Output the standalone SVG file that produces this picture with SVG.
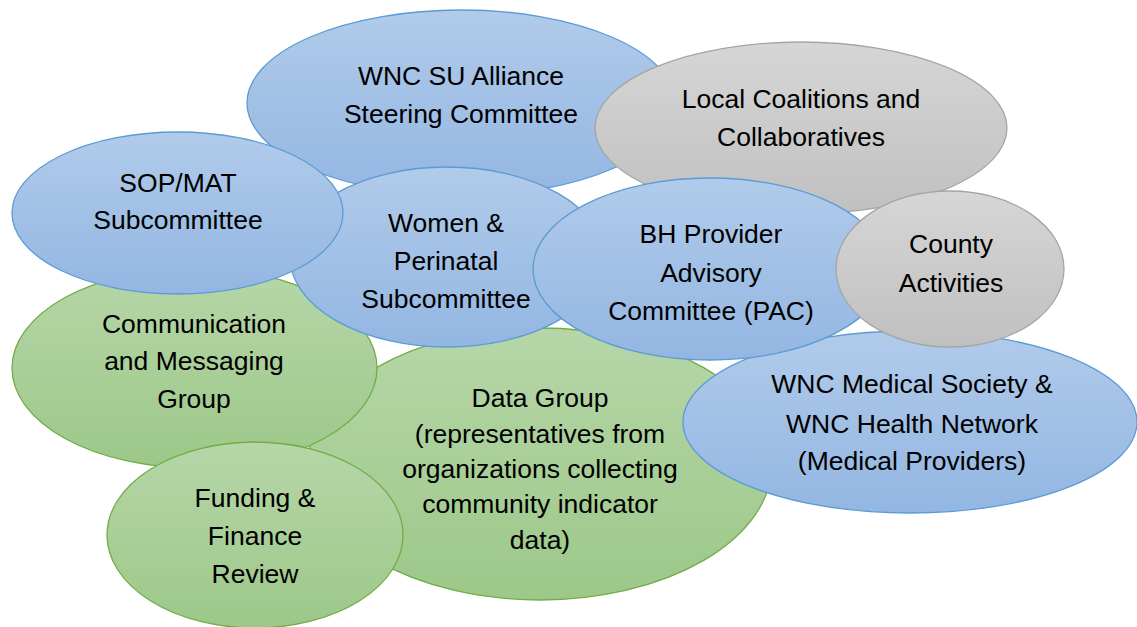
<svg xmlns="http://www.w3.org/2000/svg" width="1137" height="627" viewBox="0 0 1137 627">
<defs>
<linearGradient id="gBlue" x1="0" y1="0" x2="0" y2="1"><stop offset="0" stop-color="#b1cbea"/><stop offset="1" stop-color="#93b6e2"/></linearGradient>
<linearGradient id="gGreen" x1="0" y1="0" x2="0" y2="1"><stop offset="0" stop-color="#b6d6a8"/><stop offset="1" stop-color="#9dc889"/></linearGradient>
<linearGradient id="gGray" x1="0" y1="0" x2="0" y2="1"><stop offset="0" stop-color="#d6d6d6"/><stop offset="1" stop-color="#c0c0c0"/></linearGradient>
</defs>
<style>
.blue{fill:url(#gBlue);stroke:#5b9bd5;stroke-width:1.3}
.green{fill:url(#gGreen);stroke:#70ad47;stroke-width:1.3}
.gray{fill:url(#gGray);stroke:#a5a5a5;stroke-width:1.3}
text{font-family:"Liberation Sans",Arial,sans-serif;font-size:26.5px;fill:#000;text-anchor:middle}
</style>
<rect width="1137" height="627" fill="#fff"/>
<g id="connectors"/>
<g id="steering">
<ellipse class="blue" cx="461" cy="103" rx="214" ry="93"/>
<text x="461" y="85">WNC SU Alliance</text>
<text x="461" y="123">Steering Committee</text>
</g>
<g id="local-coalitions">
<ellipse class="gray" cx="801" cy="128" rx="206" ry="86"/>
<text x="801" y="108">Local Coalitions and</text>
<text x="801" y="146">Collaboratives</text>
</g>
<g id="data-group">
<ellipse class="green" cx="540" cy="464" rx="232" ry="136"/>
<text x="540" y="407">Data Group</text>
<text x="540" y="443">(representatives from</text>
<text x="540" y="478">organizations collecting</text>
<text x="540" y="513">community indicator</text>
<text x="540" y="549">data)</text>
</g>
<g id="communication">
<ellipse class="green" cx="194.5" cy="368" rx="182.5" ry="100"/>
<text x="194" y="333">Communication</text>
<text x="194" y="370">and Messaging</text>
<text x="194" y="408">Group</text>
</g>
<g id="funding">
<ellipse class="green" cx="255" cy="535" rx="148" ry="93"/>
<text x="255" y="507">Funding &amp;</text>
<text x="255" y="545">Finance</text>
<text x="255" y="583">Review</text>
</g>
<g id="medical">
<ellipse class="blue" cx="910" cy="422" rx="227" ry="91"/>
<text x="912" y="393">WNC Medical Society &amp;</text>
<text x="912" y="433">WNC Health Network</text>
<text x="912" y="470">(Medical Providers)</text>
</g>
<g id="women">
<ellipse class="blue" cx="447" cy="257" rx="157" ry="90"/>
<text x="446" y="232">Women &amp;</text>
<text x="446" y="270">Perinatal</text>
<text x="446" y="308">Subcommittee</text>
</g>
<g id="sop-mat">
<ellipse class="blue" cx="177.5" cy="213" rx="165.5" ry="81"/>
<text x="178" y="192">SOP/MAT</text>
<text x="178" y="229">Subcommittee</text>
</g>
<g id="bh-pac">
<ellipse class="blue" cx="710" cy="269" rx="177" ry="91"/>
<text x="711" y="243">BH Provider</text>
<text x="711" y="282">Advisory</text>
<text x="711" y="320">Committee (PAC)</text>
</g>
<g id="county">
<ellipse class="gray" cx="950" cy="269" rx="114" ry="78"/>
<text x="951" y="253">County</text>
<text x="951" y="292">Activities</text>
</g>
</svg>
